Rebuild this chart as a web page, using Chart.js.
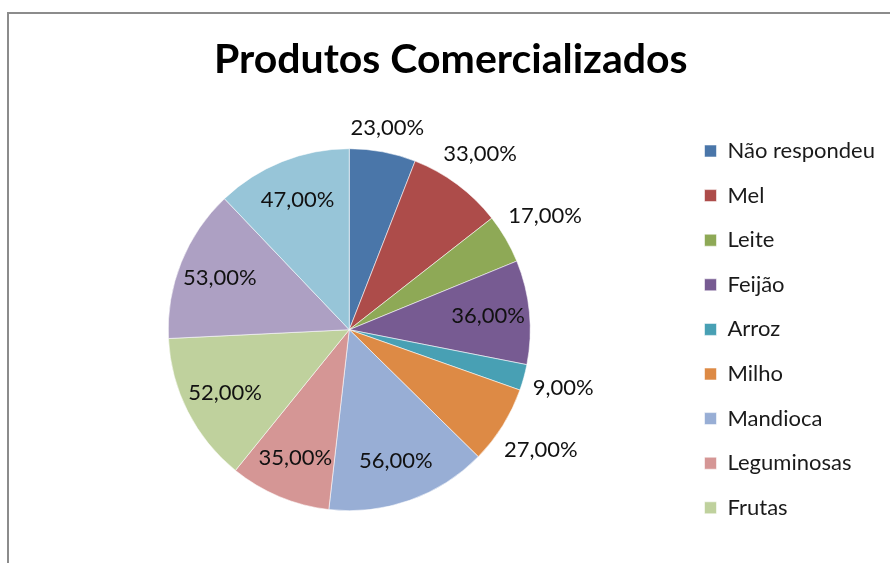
<!DOCTYPE html>
<html>
<head>
<meta charset="utf-8">
<script src="https://cdn.jsdelivr.net/npm/chart.js@4.4.0/dist/chart.umd.min.js"></script>
<style>
    html, body { margin: 0; padding: 0; background: #fff; }
    #wrap { position: relative; width: 890px; height: 563px; overflow: hidden; }
    #frame {
        position: absolute; left: 7px; top: 12px; right: -2px; bottom: -2px;
        border-top: 2px solid #8c8c8c; border-left: 2px solid #8c8c8c;
    }
    canvas { position: absolute; left: 0; top: 0; }
</style>
</head>
<body>
<div id="wrap">
    <div id="frame"></div>
    <canvas id="pieChart" width="890" height="563"></canvas>
</div>
<script>
// data (the last two legend entries are cut off in the original)
const categories = ['Não respondeu', 'Mel', 'Leite', 'Feijão', 'Arroz', 'Milho', 'Mandioca', 'Leguminosas', 'Frutas', 'Série 10', 'Série 11'];
const percentValues = [23, 33, 17, 36, 9, 27, 56, 35, 52, 53, 47];
const sliceColors = ['#4a76a9', '#ad4c4a', '#8ea956', '#775b92', '#48a0b4', '#dd8a45',
                     '#98aed5', '#d59695', '#bfd19d', '#ada0c3', '#97c5d8'];

const FONT = 'Lato, "Noto Sans", sans-serif';
const LEGEND_VISIBLE = 9;
const OUTSIDE_LABELS = [0, 1, 2, 4, 5];

const fmtPercent = (v) => v.toFixed(2).replace('.', ',') + '%';

// percentage labels, inside or just outside each slice
const sliceLabels = {
    id: 'sliceLabels',
    afterDatasetsDraw(chart) {
        const ctx = chart.ctx;
        const meta = chart.getDatasetMeta(0);
        ctx.save();
        ctx.font = '22px ' + FONT;
        ctx.fillStyle = '#111';
        ctx.textAlign = 'center';
        ctx.textBaseline = 'middle';
        meta.data.forEach((arc, i) => {
            const { x, y, startAngle, endAngle, outerRadius } = arc.getProps(['x', 'y', 'startAngle', 'endAngle', 'outerRadius'], true);
            const mid = (startAngle + endAngle) / 2;
            const text = fmtPercent(percentValues[i]);
            let dist;
            if (OUTSIDE_LABELS.includes(i)) {
                const w = ctx.measureText(text).width;
                const half = Math.abs(Math.cos(mid)) * w / 2 + Math.abs(Math.sin(mid)) * 9;
                dist = outerRadius + 9 + half;
            } else {
                dist = outerRadius * 0.77;
            }
            ctx.fillText(text, x + Math.cos(mid) * dist, y + Math.sin(mid) * dist);
        });
        ctx.restore();
    }
};

const chart = new Chart(document.getElementById('pieChart'), {
    type: 'pie',
    data: {
        labels: categories,
        datasets: [{
            data: percentValues,
            backgroundColor: sliceColors,
            borderColor: 'rgba(255,255,255,0.55)',
            borderWidth: 1,
            radius: 181
        }]
    },
    options: {
        responsive: false,
        animation: false,
        layout: {
            padding: { left: 16.6, right: 5, top: 0, bottom: 21.6 }
        },
        plugins: {
            title: {
                display: true,
                text: 'Produtos Comercializados',
                color: '#000',
                font: { family: FONT, size: 41, weight: 'bold' },
                padding: { top: 35, bottom: 33.8 }
            },
            legend: {
                position: 'right',
                align: 'end',
                labels: {
                    color: '#1a1a1a',
                    font: { family: FONT, size: 22 },
                    boxWidth: 12,
                    boxHeight: 12,
                    padding: 22.6,
                    filter: (item) => item.index < LEGEND_VISIBLE
                }
            },
            tooltip: { enabled: false }
        }
    },
    plugins: [sliceLabels]
});
</script>
</body>
</html>
